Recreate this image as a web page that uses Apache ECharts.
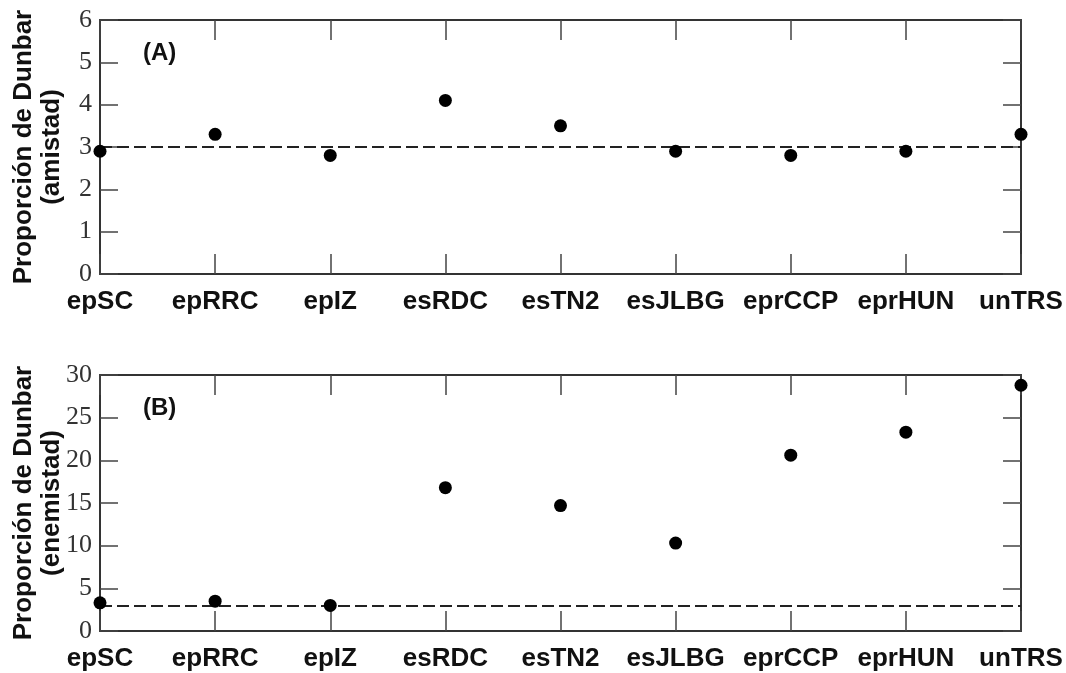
<!DOCTYPE html>
<html>
<head>
<meta charset="utf-8">
<script src="https://cdn.jsdelivr.net/npm/echarts@6/dist/echarts.min.js"></script>
<style>
    html, body { margin: 0; padding: 0; background: #fff; }
    #main { width: 1066px; height: 673px; }
</style>
</head>
<body>
<div id="main"></div>
<script>
// datos
var categories = ['epSC', 'epRRC', 'epIZ', 'esRDC', 'esTN2', 'esJLBG', 'eprCCP', 'eprHUN', 'unTRS'];
var amistad = [2.9, 3.3, 2.8, 4.1, 3.5, 2.9, 2.8, 2.9, 3.3];
var enemistad = [3.3, 3.5, 3.0, 16.8, 14.7, 10.3, 20.6, 23.3, 28.8];
var dunbarLevel = [3, 3];           // linea discontinua de cada panel
var rangeA = [0, 6, 1];             // min, max, intervalo
var rangeB = [0, 30, 5];
var panelNames = ['(A)', '(B)'];
var yTitles = ['Proporción de Dunbar\n(amistad)', 'Proporción de Dunbar\n(enemistad)'];

var myChart = echarts.init(document.getElementById('main'));

var frameColor = '#333';

function makeX(gridIndex, position, showLabel) {
    return {
        type: 'category',
        gridIndex: gridIndex,
        position: position,
        data: categories,
        boundaryGap: false,
        axisLine: { show: true, onZero: false, lineStyle: { color: frameColor, width: 2 } },
        axisTick: { show: true, inside: true, interval: 0, length: 20, lineStyle: { color: '#444', width: 1.5 } },
        axisLabel: {
            show: showLabel,
            interval: 0,
            hideOverlap: false,
            margin: 15,
            fontFamily: 'Liberation Sans',
            fontWeight: 'bold',
            fontSize: 26,
            color: '#111'
        },
        splitLine: { show: false }
    };
}

function makeY(gridIndex, position, range, name) {
    return {
        type: 'value',
        gridIndex: gridIndex,
        position: position,
        min: range[0],
        max: range[1],
        interval: range[2],
        name: name,
        nameLocation: 'middle',
        nameRotate: 90,
        nameGap: 34,
        nameMoveOverlap: false,
        nameTextStyle: {
            fontFamily: 'Liberation Sans',
            fontWeight: 'bold',
            fontSize: 26,
            lineHeight: 28,
            color: '#111'
        },
        axisLine: { show: true, onZero: false, lineStyle: { color: frameColor, width: 2 } },
        axisTick: { show: true, inside: true, length: 18, lineStyle: { color: '#444', width: 1.5 } },
        axisLabel: {
            show: position === 'left',
            margin: 8,
            fontFamily: 'Liberation Serif',
            fontSize: 26,
            color: '#333'
        },
        splitLine: { show: false }
    };
}

function makeSeries(axisIndex, values, level) {
    return {
        type: 'scatter',
        xAxisIndex: axisIndex,
        yAxisIndex: axisIndex,
        data: values,
        symbol: 'circle',
        symbolSize: 13,
        clip: false,
        itemStyle: { color: '#000', opacity: 1 },
        markLine: {
            silent: true,
            symbol: 'none',
            label: { show: false },
            lineStyle: { color: '#222', width: 2, type: [12, 5], opacity: 1 },
            data: [{ yAxis: level }]
        },
        z: 5
    };
}

var panelTextStyle = { fontFamily: 'Liberation Sans', fontWeight: 'bold', fontSize: 24, color: '#111' };

option = {
    animation: false,
    backgroundColor: '#fff',
    title: [
        { text: panelNames[0], left: 143, top: 41, padding: 0, textStyle: panelTextStyle },
        { text: panelNames[1], left: 143, top: 396, padding: 0, textStyle: panelTextStyle }
    ],
    grid: [
        { left: 100, right: 45, top: 20, height: 254, containLabel: false, outerBoundsMode: 'none' },
        { left: 100, right: 45, top: 375, height: 256, containLabel: false, outerBoundsMode: 'none' }
    ],
    xAxis: [
        makeX(0, 'bottom', true),
        makeX(0, 'top', false),
        makeX(1, 'bottom', true),
        makeX(1, 'top', false)
    ],
    yAxis: [
        makeY(0, 'left', rangeA, yTitles[0]),
        makeY(0, 'right', rangeA, ''),
        makeY(1, 'left', rangeB, yTitles[1]),
        makeY(1, 'right', rangeB, '')
    ],
    series: [
        makeSeries(0, amistad, dunbarLevel[0]),
        makeSeries(2, enemistad, dunbarLevel[1])
    ]
};

myChart.setOption(option);
</script>
</body>
</html>
